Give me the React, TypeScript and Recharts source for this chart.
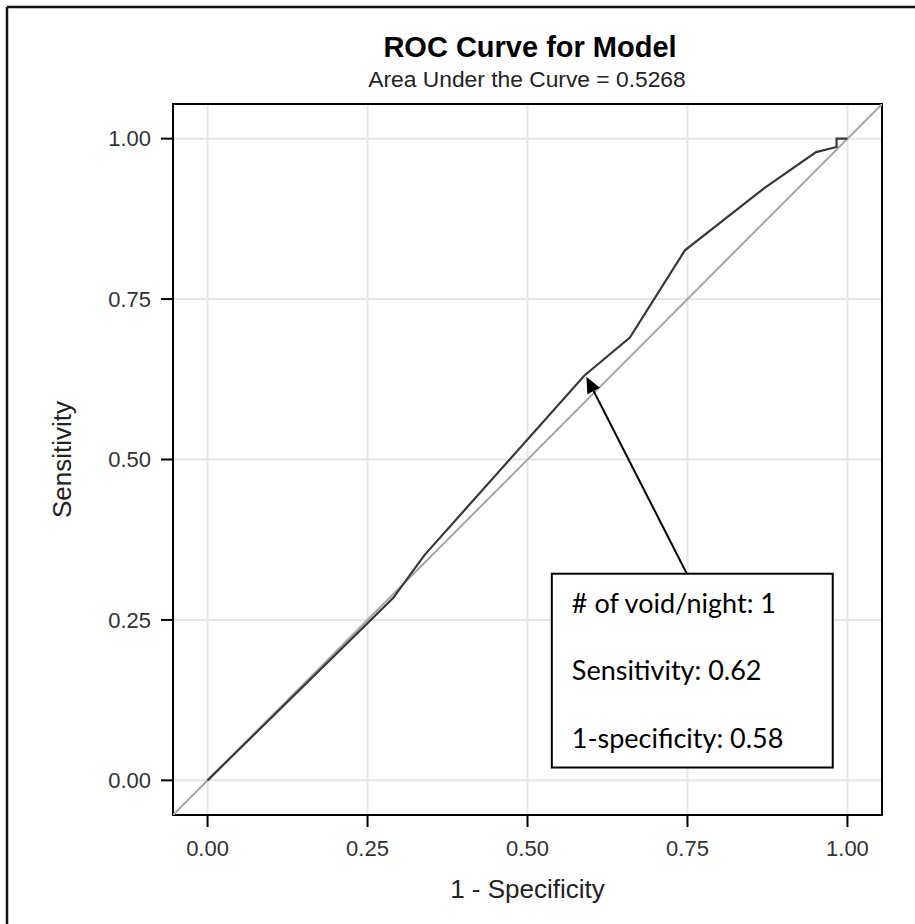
import React from 'react';
import { LineChart, Line, XAxis, YAxis, CartesianGrid, ReferenceLine, ReferenceArea, Label } from 'recharts';

const W = 915;
const H = 924;

const AXIS_TICKS = [0, 0.25, 0.5, 0.75, 1];
const AXIS_DOMAIN: [number, number] = [-0.054, 1.054];

// ROC curve
const FPR = [0, 0.29, 0.339, 0.589, 0.66, 0.746, 0.87, 0.951, 0.983, 0.983, 1];
const TPR = [0, 0.284, 0.351, 0.631, 0.69, 0.826, 0.923, 0.979, 0.987, 1, 1];

const TITLE = 'ROC Curve for Model';
const SUBTITLE = 'Area Under the Curve = 0.5268';
const X_LABEL = '1 - Specificity';
const Y_LABEL = 'Sensitivity';

const NOTE_LINES = ['# of void/night: 1', 'Sensitivity: 0.62', '1-specificity: 0.58'];
const ARROW_FROM = { x: 0.749, y: 0.322 };
const ARROW_TO = { x: 0.592, y: 0.629 };
const NOTE_BOX = { x1: 0.538, x2: 0.977, y1: 0.02, y2: 0.322 };

const rocData = FPR.map((x, i) => ({ x, y: TPR[i] }));
const diagData = [
  { x: AXIS_DOMAIN[0], y: AXIS_DOMAIN[0] },
  { x: AXIS_DOMAIN[1], y: AXIS_DOMAIN[1] },
];

const FONT = '"Liberation Sans", Arial, sans-serif';
const fmt = (v: number) => v.toFixed(2);

const NoteBox = (props: any) => {
  const { x, y, width, height } = props;
  return (
    <g>
      <rect x={x} y={y} width={width} height={height} fill="#fff" stroke="#000" strokeWidth={2} />
      {NOTE_LINES.map((t, i) => (
        <text key={i} x={x + 20} y={y + 39 + i * 67.5} fontFamily="Lato, sans-serif" fontSize={27} fill="#000">
          {t}
        </text>
      ))}
    </g>
  );
};

const Arrow = (props: any) => {
  const { x1, y1, x2, y2 } = props;
  const dx = x2 - x1;
  const dy = y2 - y1;
  const len = Math.hypot(dx, dy) || 1;
  const ux = dx / len;
  const uy = dy / len;
  const hl = 16;
  const hw = 7;
  const bx = x2 - ux * hl;
  const by = y2 - uy * hl;
  return (
    <g>
      <line x1={x1} y1={y1} x2={bx} y2={by} stroke="#000" strokeWidth={2} />
      <polygon
        points={`${x2},${y2} ${bx - uy * hw},${by + ux * hw} ${bx + uy * hw},${by - ux * hw}`}
        fill="#000"
      />
    </g>
  );
};

export default function App() {
  return (
    <div style={{ position: 'absolute', left: 0, top: 0, width: W, height: H, background: '#fff' }}>
      <LineChart width={W} height={H} margin={{ top: 104, right: 33, bottom: 0, left: 0 }}>
        <CartesianGrid stroke="#e5e5e5" strokeWidth={2} />
        <XAxis
          type="number"
          dataKey="x"
          domain={AXIS_DOMAIN}
          ticks={AXIS_TICKS}
          tickFormatter={fmt}
          height={109}
          axisLine={false}
          tickSize={12}
          tickMargin={13}
          tickLine={{ stroke: '#000', strokeWidth: 2 }}
          tick={{ fontSize: 22, fill: '#333', fontFamily: FONT }}
          allowDataOverflow
        >
          <Label
            content={(p: any) => (
              <text
                x={p.viewBox.x + p.viewBox.width / 2}
                y={p.viewBox.y + 83}
                textAnchor="middle"
                fontSize={26}
                fontFamily={FONT}
                fill="#222"
              >
                {X_LABEL}
              </text>
            )}
          />
        </XAxis>
        <YAxis
          type="number"
          dataKey="y"
          domain={AXIS_DOMAIN}
          ticks={AXIS_TICKS}
          tickFormatter={fmt}
          width={173}
          axisLine={false}
          tickSize={12}
          tickMargin={10}
          tickLine={{ stroke: '#000', strokeWidth: 2 }}
          tick={{ fontSize: 22, fill: '#333', fontFamily: FONT }}
          allowDataOverflow
        >
          <Label
            content={(p: any) => {
              const cx = p.viewBox.x + 62;
              const cy = p.viewBox.y + p.viewBox.height / 2;
              return (
                <text
                  x={cx}
                  y={cy}
                  transform={`rotate(-90 ${cx} ${cy})`}
                  textAnchor="middle"
                  dominantBaseline="central"
                  fontSize={26}
                  fontFamily={FONT}
                  fill="#222"
                >
                  {Y_LABEL}
                </text>
              );
            }}
          />
        </YAxis>
        <Line
          data={diagData}
          dataKey="y"
          type="linear"
          stroke="#a6a6a6"
          strokeWidth={2}
          dot={false}
          activeDot={false}
          isAnimationActive={false}
        />
        <Line
          data={rocData}
          dataKey="y"
          type="linear"
          stroke="#383838"
          strokeWidth={2.2}
          dot={false}
          activeDot={false}
          isAnimationActive={false}
        />
        <ReferenceArea
          x1={AXIS_DOMAIN[0]}
          x2={AXIS_DOMAIN[1]}
          y1={AXIS_DOMAIN[0]}
          y2={AXIS_DOMAIN[1]}
          fill="none"
          stroke="#000"
          strokeWidth={2}
          ifOverflow="visible"
        />
        <ReferenceArea
          x1={NOTE_BOX.x1}
          x2={NOTE_BOX.x2}
          y1={NOTE_BOX.y1}
          y2={NOTE_BOX.y2}
          shape={<NoteBox />}
          ifOverflow="visible"
        />
        <ReferenceLine segment={[ARROW_FROM, ARROW_TO]} shape={(p: any) => <Arrow {...p} />} ifOverflow="visible" />
      </LineChart>
      <svg
        width={W}
        height={H}
        style={{ position: 'absolute', left: 0, top: 0, pointerEvents: 'none' }}
      >
        <line x1={7} y1={7} x2={W} y2={7} stroke="#111" strokeWidth={2.5} />
        <line x1={7} y1={7} x2={7} y2={H} stroke="#111" strokeWidth={2.5} />
        <text x={530} y={57} textAnchor="middle" fontSize={29} fontWeight="bold" fontFamily={FONT} fill="#000">
          {TITLE}
        </text>
        <text x={527} y={87} textAnchor="middle" fontSize={22.8} fontFamily={FONT} fill="#222">
          {SUBTITLE}
        </text>
      </svg>
    </div>
  );
}
